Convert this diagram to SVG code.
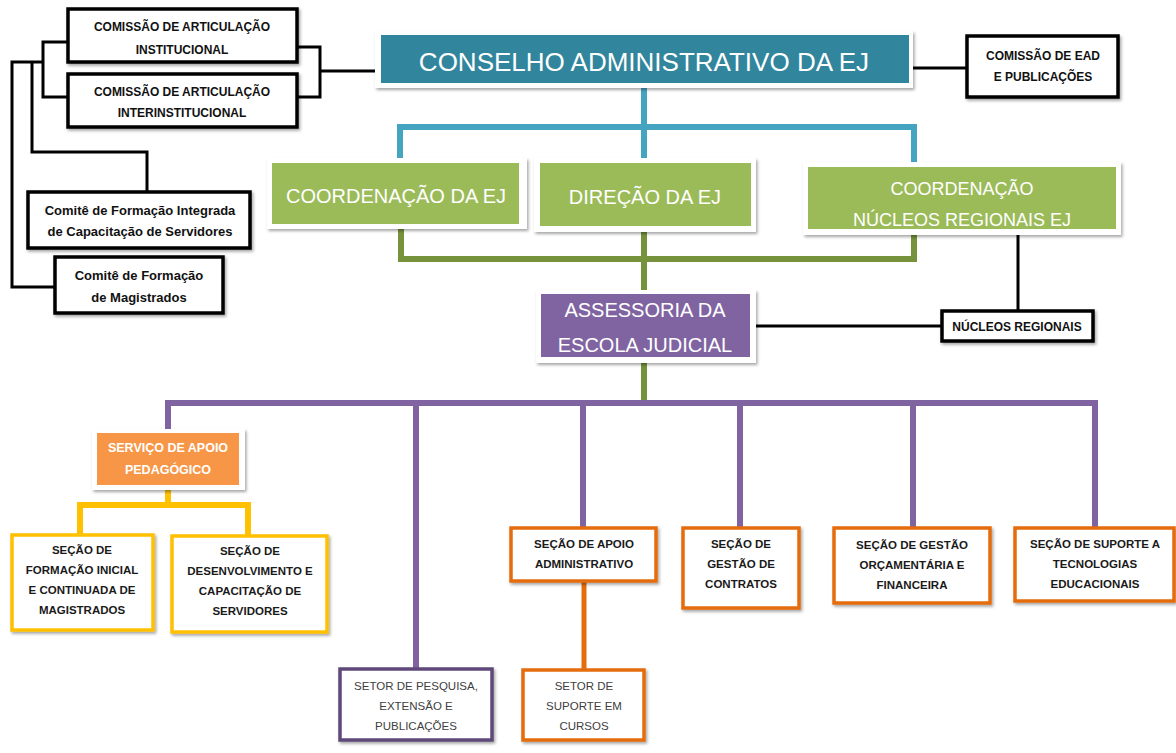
<svg xmlns="http://www.w3.org/2000/svg" width="1176" height="753" viewBox="0 0 1176 753">
<defs>
<filter id="sh" x="-10%" y="-15%" width="125%" height="140%">
<feDropShadow dx="1.5" dy="2" stdDeviation="1.5" flood-color="#000" flood-opacity="0.35"/>
</filter>
<style>
text{font-family:"Liberation Sans",Arial,sans-serif;text-anchor:middle}
.bb{fill:#fff;stroke:#000;stroke-width:3.5}
.fr{fill:#fff}
.tb{font-weight:bold;font-size:12px;fill:#111}
.tm{font-weight:bold;font-size:13px;fill:#111}
.ts{font-weight:bold;font-size:11.5px;fill:#1a1a1a}
.tr{font-size:11.5px;fill:#404040}
.tw{fill:#fff}
.yb{fill:#fff;stroke:#FFC000;stroke-width:3.5}
.ob{fill:#fff;stroke:#E46C0A;stroke-width:3.5}
.pb{fill:#fff;stroke:#5F497A;stroke-width:3.5}
.c{fill:none;stroke-linejoin:miter}
.k{stroke:#000;stroke-width:3}
.te{stroke:#45A5C1;stroke-width:6}
.gr{stroke:#76923C;stroke-width:6}
.pu{stroke:#8064A2;stroke-width:6}
.ye{stroke:#FFC000;stroke-width:6}
.or{stroke:#E46C0A;stroke-width:5}
</style>
</defs>
<rect width="1176" height="753" fill="#fff"/>

<g id="connectors" class="c">
<path class="k" d="M297,47H320V97H297M320,71H375"/>
<path class="k" d="M67,42H43V97H67"/>
<path class="k" d="M43,62H12V287H55"/>
<path class="k" d="M32,62V152H147V192"/>
<path class="k" d="M913,68H967"/>
<path class="k" d="M1018,235V311"/>
<path class="k" d="M756,326H942"/>
<path class="te" d="M644,88V158M400,158V127H914V162"/>
<path class="gr" d="M401,229V259H914V235M644,232V294M644,363V403"/>
<path class="pu" d="M168,429V403H1095V528M416,403V669M583,403V528M740,403V528M913,403V528"/>
<path class="ye" d="M168,490V505M80,535V505H248V536"/>
<path class="or" d="M584,581V670"/>
</g>

<g id="n-cai">
<rect class="bb" x="68" y="9" width="229" height="53" filter="url(#sh)"/>
<text class="tb" x="182" y="31">COMISSÃO DE ARTICULAÇÃO</text>
<text class="tb" x="182" y="54">INSTITUCIONAL</text>
</g>
<g id="n-cai2">
<rect class="bb" x="68" y="74" width="229" height="53" filter="url(#sh)"/>
<text class="tb" x="182" y="96">COMISSÃO DE ARTICULAÇÃO</text>
<text class="tb" x="182" y="117">INTERINSTITUCIONAL</text>
</g>
<g id="n-cfi">
<rect class="bb" x="28" y="192" width="222" height="56" filter="url(#sh)"/>
<text class="tm" x="140" y="215">Comitê de Formação Integrada</text>
<text class="tm" x="140" y="236">de Capacitação de Servidores</text>
</g>
<g id="n-cfm">
<rect class="bb" x="55" y="257" width="168" height="56" filter="url(#sh)"/>
<text class="tm" x="139" y="280">Comitê de Formação</text>
<text class="tm" x="139" y="302">de Magistrados</text>
</g>

<g id="n-conselho">
<rect class="fr" x="375" y="31" width="538" height="57" filter="url(#sh)"/>
<rect x="381" y="35" width="528" height="48" fill="#31859C"/>
<text class="tw" x="644" y="71" font-size="26">CONSELHO ADMINISTRATIVO DA EJ</text>
</g>
<g id="n-ead">
<rect class="bb" x="967" y="36" width="151" height="61" filter="url(#sh)"/>
<text class="tb" x="1043" y="60">COMISSÃO DE EAD</text>
<text class="tb" x="1043" y="81">E PUBLICAÇÕES</text>
</g>

<g id="n-coord">
<rect class="fr" x="267" y="158" width="260" height="71" filter="url(#sh)"/>
<rect x="272" y="163" width="247" height="61" fill="#9BBB59"/>
<text class="tw" x="396" y="203" font-size="20">COORDENAÇÃO DA EJ</text>
</g>
<g id="n-dir">
<rect class="fr" x="534" y="158" width="222" height="74" filter="url(#sh)"/>
<rect x="540" y="163" width="211" height="63" fill="#9BBB59"/>
<text class="tw" x="645" y="204" font-size="20">DIREÇÃO DA EJ</text>
</g>
<g id="n-cnr">
<rect class="fr" x="803" y="162" width="318" height="73" filter="url(#sh)"/>
<rect x="808" y="167" width="308" height="62" fill="#9BBB59"/>
<text class="tw" x="962" y="194.5" font-size="18">COORDENAÇÃO</text>
<text class="tw" x="962" y="225.5" font-size="18">NÚCLEOS REGIONAIS EJ</text>
</g>

<g id="n-assessoria">
<rect class="fr" x="536" y="290" width="220" height="73" filter="url(#sh)"/>
<rect x="541" y="294" width="209" height="63" fill="#8064A2"/>
<text class="tw" x="645" y="317" font-size="20">ASSESSORIA DA</text>
<text class="tw" x="645" y="352" font-size="20">ESCOLA JUDICIAL</text>
</g>
<g id="n-nucleos">
<rect class="bb" x="942" y="311" width="151" height="30" filter="url(#sh)"/>
<text class="tb" x="1017" y="331" font-size="11">NÚCLEOS REGIONAIS</text>
</g>

<g id="n-sap">
<rect class="fr" x="92" y="429" width="153" height="61" filter="url(#sh)"/>
<rect x="97" y="433" width="142" height="52" fill="#F79646"/>
<text class="tw" x="168" y="451.5" font-size="12.5" font-weight="bold">SERVIÇO DE APOIO</text>
<text class="tw" x="168" y="473.5" font-size="12.5" font-weight="bold">PEDAGÓGICO</text>
</g>
<g id="n-sfi">
<rect class="yb" x="12" y="535" width="141" height="95" filter="url(#sh)"/>
<text class="ts" x="82" y="554">SEÇÃO DE</text>
<text class="ts" x="82" y="574">FORMAÇÃO INICIAL</text>
<text class="ts" x="82" y="594">E CONTINUADA DE</text>
<text class="ts" x="82" y="614">MAGISTRADOS</text>
</g>
<g id="n-sdc">
<rect class="yb" x="172" y="536" width="155" height="96" filter="url(#sh)"/>
<text class="ts" x="250" y="555">SEÇÃO DE</text>
<text class="ts" x="250" y="575">DESENVOLVIMENTO E</text>
<text class="ts" x="250" y="595">CAPACITAÇÃO DE</text>
<text class="ts" x="250" y="615">SERVIDORES</text>
</g>
<g id="n-spep">
<rect class="pb" x="340" y="669" width="152" height="71" filter="url(#sh)"/>
<text class="tr" x="416" y="690">SETOR DE PESQUISA,</text>
<text class="tr" x="416" y="710">EXTENSÃO E</text>
<text class="tr" x="416" y="730">PUBLICAÇÕES</text>
</g>
<g id="n-saa">
<rect class="ob" x="511" y="528" width="145" height="53" filter="url(#sh)"/>
<text class="ts" x="584" y="548">SEÇÃO DE APOIO</text>
<text class="ts" x="584" y="568">ADMINISTRATIVO</text>
</g>
<g id="n-ssc">
<rect class="ob" x="523" y="670" width="121" height="70" filter="url(#sh)"/>
<text class="tr" x="584" y="690">SETOR DE</text>
<text class="tr" x="584" y="710">SUPORTE EM</text>
<text class="tr" x="584" y="730">CURSOS</text>
</g>
<g id="n-sgc">
<rect class="ob" x="683" y="528" width="116" height="80" filter="url(#sh)"/>
<text class="ts" x="741" y="548">SEÇÃO DE</text>
<text class="ts" x="741" y="568">GESTÃO DE</text>
<text class="ts" x="741" y="588">CONTRATOS</text>
</g>
<g id="n-sgof">
<rect class="ob" x="834" y="528" width="156" height="75" filter="url(#sh)"/>
<text class="ts" x="912" y="549">SEÇÃO DE GESTÃO</text>
<text class="ts" x="912" y="569">ORÇAMENTÁRIA E</text>
<text class="ts" x="912" y="589">FINANCEIRA</text>
</g>
<g id="n-sste">
<rect class="ob" x="1015" y="528" width="159" height="73" filter="url(#sh)"/>
<text class="ts" x="1095" y="548">SEÇÃO DE SUPORTE A</text>
<text class="ts" x="1095" y="568">TECNOLOGIAS</text>
<text class="ts" x="1095" y="588">EDUCACIONAIS</text>
</g>
</svg>
